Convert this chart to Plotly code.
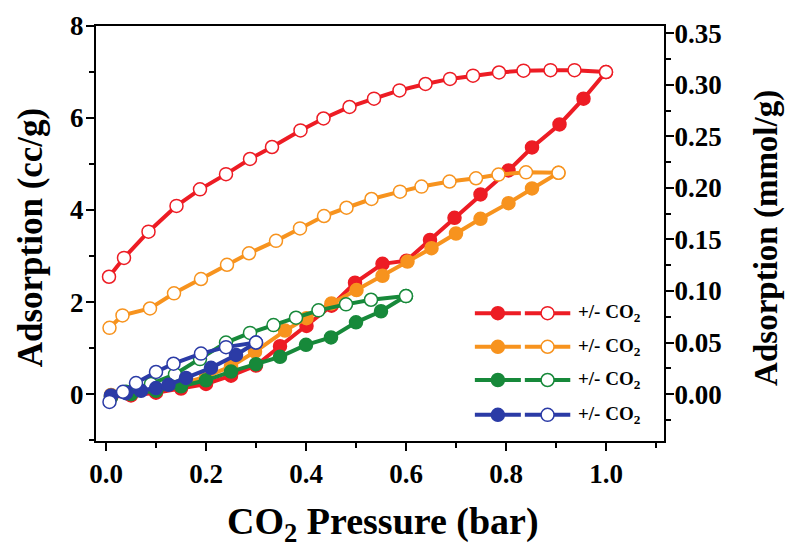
import plotly.graph_objects as go

# ---------------- data ----------------
red_ads_x = [0.01, 0.05, 0.10, 0.15, 0.20, 0.25, 0.30, 0.348, 0.401, 0.451, 0.498, 0.553, 0.601, 0.648, 0.697, 0.749, 0.805, 0.852, 0.907, 0.955, 1.0]
red_ads_y = [-0.06, -0.03, 0.03, 0.12, 0.22, 0.40, 0.62, 1.04, 1.48, 1.92, 2.42, 2.83, 2.90, 3.35, 3.83, 4.34, 4.86, 5.36, 5.86, 6.42, 7.0]
red_des_x = [1.0, 0.937, 0.889, 0.835, 0.786, 0.734, 0.688, 0.639, 0.587, 0.536, 0.487, 0.435, 0.389, 0.332, 0.288, 0.24, 0.188, 0.141, 0.085, 0.036, 0.006]
red_des_y = [7.0, 7.04, 7.04, 7.03, 6.99, 6.92, 6.85, 6.74, 6.60, 6.42, 6.24, 5.99, 5.73, 5.37, 5.11, 4.78, 4.45, 4.09, 3.53, 2.96, 2.55]

orange_ads_x = [0.01, 0.05, 0.10, 0.15, 0.20, 0.25, 0.298, 0.358, 0.401, 0.451, 0.501, 0.553, 0.603, 0.651, 0.70, 0.749, 0.805, 0.852, 0.905]
orange_ads_y = [-0.02, 0.02, 0.10, 0.22, 0.38, 0.60, 0.92, 1.38, 1.65, 1.97, 2.26, 2.57, 2.88, 3.17, 3.49, 3.81, 4.15, 4.47, 4.81]
orange_des_x = [0.905, 0.84, 0.785, 0.74, 0.687, 0.631, 0.588, 0.531, 0.481, 0.436, 0.388, 0.34, 0.286, 0.242, 0.19, 0.136, 0.088, 0.033, 0.007]
orange_des_y = [4.81, 4.82, 4.77, 4.69, 4.62, 4.51, 4.40, 4.24, 4.05, 3.87, 3.60, 3.33, 3.06, 2.81, 2.50, 2.19, 1.86, 1.71, 1.44]

green_ads_x = [0.01, 0.05, 0.10, 0.15, 0.20, 0.25, 0.30, 0.348, 0.40, 0.45, 0.50, 0.55, 0.60]
green_ads_y = [-0.05, 0.0, 0.07, 0.17, 0.30, 0.49, 0.65, 0.81, 1.07, 1.23, 1.56, 1.80, 2.13]
green_des_x = [0.60, 0.53, 0.48, 0.425, 0.38, 0.335, 0.288, 0.24, 0.188, 0.138, 0.09, 0.04, 0.01]
green_des_y = [2.13, 2.05, 1.95, 1.82, 1.66, 1.50, 1.33, 1.12, 0.76, 0.43, 0.22, 0.05, -0.07]

blue_ads_x = [0.01, 0.04, 0.07, 0.10, 0.125, 0.16, 0.21, 0.26, 0.30]
blue_ads_y = [-0.03, 0.02, 0.07, 0.13, 0.20, 0.35, 0.57, 0.85, 1.12]
blue_des_x = [0.30, 0.24, 0.19, 0.135, 0.10, 0.06, 0.034, 0.007]
blue_des_y = [1.12, 1.02, 0.88, 0.66, 0.48, 0.24, 0.05, -0.17]

legend_labels = ["+/- CO<sub>2</sub>"] * 4

x_ticks = [0.0, 0.2, 0.4, 0.6, 0.8, 1.0]
y_left_ticks = [0, 2, 4, 6, 8]
y_right_ticks = [0.00, 0.05, 0.10, 0.15, 0.20, 0.25, 0.30, 0.35]
CC_PER_MMOL = 22.4

# ---------------- styling ----------------
colors = ["#ED1C24", "#F7931E", "#17893A", "#2B3BA6"]
FONT = "Liberation Serif"
X_RANGE = [-0.02, 1.116]
Y_RANGE = [-1.02, 8.0]

series = [
    (red_ads_x, red_ads_y, red_des_x, red_des_y),
    (orange_ads_x, orange_ads_y, orange_des_x, orange_des_y),
    (green_ads_x, green_ads_y, green_des_x, green_des_y),
    (blue_ads_x, blue_ads_y, blue_des_x, blue_des_y),
]

fig = go.Figure()
for (ax, ay, dx, dy), c in zip(series, colors):
    fig.add_trace(go.Scatter(
        x=ax, y=ay, mode="lines+markers", showlegend=False,
        line=dict(color=c, width=4),
        marker=dict(symbol="circle", size=13, color=c, line=dict(color=c, width=1.5)),
    ))
    fig.add_trace(go.Scatter(
        x=dx, y=dy, mode="lines+markers", showlegend=False,
        line=dict(color=c, width=4),
        marker=dict(symbol="circle", size=13, color="white", line=dict(color=c, width=1.5)),
    ))

# ---- custom legend (filled + open marker per row), on a hidden 0..1 overlay axis ----
leg_rows_y = [0.308, 0.227, 0.147, 0.063]
seg1 = [0.667, 0.748]
seg2 = [0.755, 0.835]
for c, yy in zip(colors, leg_rows_y):
    for seg, fill in ((seg1, c), (seg2, "white")):
        fig.add_trace(go.Scatter(
            x=[seg[0], (seg[0] + seg[1]) / 2, seg[1]], y=[yy, yy, yy],
            xaxis="x3", yaxis="y3", mode="lines", showlegend=False, hoverinfo="skip",
            line=dict(color=c, width=4),
        ))
        fig.add_trace(go.Scatter(
            x=[(seg[0] + seg[1]) / 2], y=[yy], xaxis="x3", yaxis="y3",
            mode="markers", showlegend=False, hoverinfo="skip",
            marker=dict(symbol="circle", size=13, color=fill, line=dict(color=c, width=1.5)),
        ))

annotations = []
for lab, yy in zip(legend_labels, leg_rows_y):
    annotations.append(dict(
        x=0.845, y=yy, xref="paper", yref="paper", xanchor="left", yanchor="middle",
        text="<b>" + lab + "</b>", showarrow=False,
        font=dict(family=FONT, size=19, color="black"),
    ))

annotations += [
    dict(x=-0.115, y=0.49, xref="paper", yref="paper", text="<b>Adsorption (cc/g)</b>",
         textangle=-90, showarrow=False, font=dict(family=FONT, size=35, color="black"),
         xanchor="center", yanchor="middle"),
    dict(x=1.18, y=0.49, xref="paper", yref="paper", text="<b>Adsorption (mmol/g)</b>",
         textangle=-90, showarrow=False, font=dict(family=FONT, size=33, color="black"),
         xanchor="center", yanchor="middle"),
    dict(x=0.505, y=-0.2, xref="paper", yref="paper", text="<b>CO<sub>2</sub> Pressure (bar)</b>",
         showarrow=False, font=dict(family=FONT, size=38, color="black"),
         xanchor="center", yanchor="middle"),
]

tick_font = dict(family=FONT, size=27, color="black", weight="bold")
axis_common = dict(showline=True, linecolor="black", linewidth=2, ticks="outside",
                   ticklen=8, tickwidth=2, tickcolor="black", showgrid=False, zeroline=False,
                   tickfont=tick_font, automargin=False)

fig.update_layout(
    width=796, height=552,
    margin=dict(l=88, r=140, t=18, b=119),
    paper_bgcolor="white", plot_bgcolor="white",
    xaxis=dict(range=X_RANGE, tickvals=x_ticks, tickformat=".1f", mirror=True,
               minor=dict(ticks="outside", ticklen=5, tickwidth=2, tickcolor="black", dtick=0.1, tick0=0),
               **axis_common),
    yaxis=dict(range=Y_RANGE, tickvals=y_left_ticks, ticklabelstandoff=-3,
               minor=dict(ticks="outside", ticklen=5, tickwidth=2, tickcolor="black", dtick=1, tick0=0),
               **axis_common),
    yaxis2=dict(range=[Y_RANGE[0] / CC_PER_MMOL, Y_RANGE[1] / CC_PER_MMOL], overlaying="y", side="right",
                tickvals=y_right_ticks, tickformat=".2f", ticklabelstandoff=-5,
                minor=dict(ticks="outside", ticklen=5, tickwidth=2, tickcolor="black", dtick=0.025, tick0=0),
                **axis_common),
    xaxis3=dict(range=[0, 1], overlaying="x", visible=False),
    yaxis3=dict(range=[0, 1], overlaying="y", visible=False),
    annotations=annotations,
)
# dummy trace to activate the right axis
fig.add_trace(go.Scatter(x=[None], y=[None], yaxis="y2", showlegend=False))

fig.write_html("out.html")
